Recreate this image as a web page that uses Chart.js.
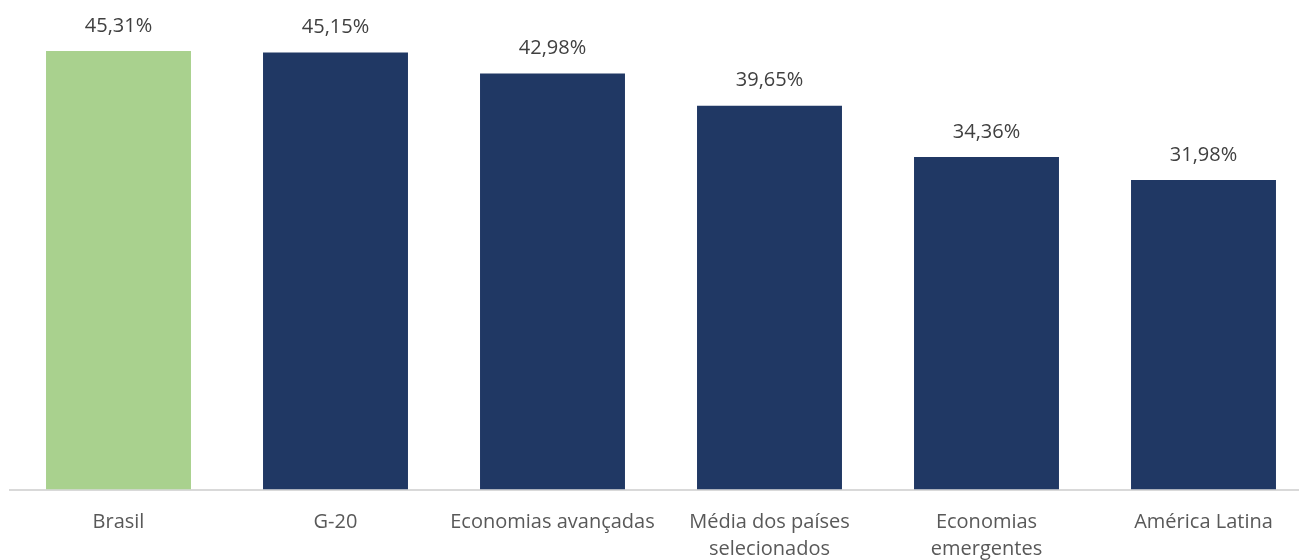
<!DOCTYPE html>
<html>
<head>
<meta charset="utf-8">
<script src="https://cdn.jsdelivr.net/npm/chart.js@4"></script>
<style>
  html, body { margin: 0; padding: 0; background: #fff; overflow: hidden; }
  #wrap { width: 1312px; height: 560px; }
</style>
</head>
<body>
<div id="wrap"><canvas id="myChart"></canvas></div>
<script>
const categorias = [
  "Brasil",
  "G-20",
  "Economias avançadas",
  ["Média dos países", "selecionados"],
  ["Economias", "emergentes"],
  "América Latina",
];
const valores = [45.31, 45.15, 42.98, 39.65, 34.36, 31.98];
const cores = ["#a9d18e", "#203864", "#203864", "#203864", "#203864", "#203864"];

const fonte = "'Open Sans', sans-serif";

// escreve o valor em cima de cada barra
const rotulos = {
  id: "rotulos",
  afterDatasetsDraw(chart) {
    const ctx = chart.ctx;
    const meta = chart.getDatasetMeta(0);
    ctx.save();
    ctx.font = "20px " + fonte;
    ctx.fillStyle = "#404040";
    ctx.textAlign = "center";
    ctx.textBaseline = "middle";
    meta.data.forEach((bar, i) => {
      const txt = valores[i].toFixed(2).replace(".", ",") + "%";
      ctx.fillText(txt, bar.x, bar.y - 25);
    });
    ctx.restore();
  },
};

const ctx = document.querySelector("#myChart").getContext("2d");
new Chart(ctx, {
  type: "bar",
  data: {
    labels: categorias,
    datasets: [
      {
        data: valores,
        backgroundColor: cores,
        categoryPercentage: 1,
        barPercentage: 0.668,
      },
    ],
  },
  options: {
    responsive: true,
    maintainAspectRatio: false,
    animation: false,
    layout: { padding: { top: 5.6, left: 10, right: 0, bottom: 0 } },
    plugins: {
      legend: { display: false },
      tooltip: { enabled: false },
    },
    scales: {
      x: {
        grid: { display: false, drawTicks: false },
        border: { color: "#d9d9d9", width: 2 },
        ticks: {
          color: "#595959",
          font: { family: fonte, size: 20, lineHeight: 1.35 },
          padding: 19,
          maxRotation: 0,
          autoSkip: false,
        },
        afterFit(scale) {
          scale.height = 70.5;
        },
      },
      y: {
        display: false,
        min: 0,
        max: 50,
      },
    },
  },
  plugins: [rotulos],
});
</script>
</body>
</html>
